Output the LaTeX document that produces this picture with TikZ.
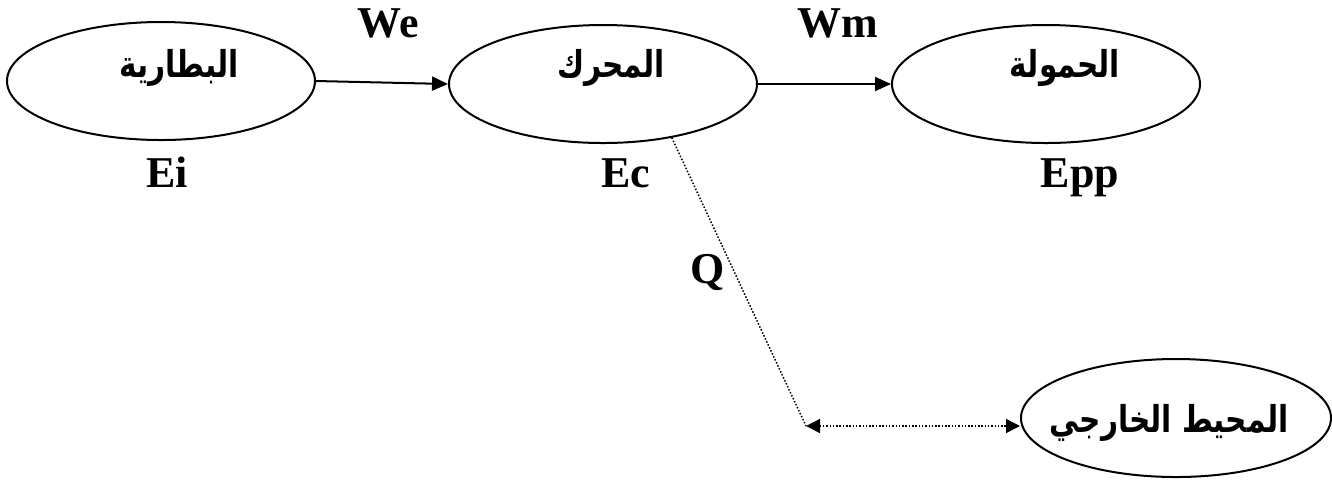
\documentclass[tikz,border=0pt]{standalone}
\usepackage{fontspec}
\setmainfont{Liberation Serif}
\newfontfamily\arabicfont[Script=Arabic,FakeStretch=0.8]{DejaVu Sans}
\TeXXeTstate=1
\usetikzlibrary{arrows.meta,shapes.geometric}

\begin{document}
\begin{tikzpicture}
[
	x=0.5pt,y=-0.5pt,
	part/.style={ellipse,draw,line width=1pt,minimum width=154pt,minimum height=59pt,inner sep=0pt},
	artxt/.style={font=\arabicfont\bfseries\fontsize{18.5}{22}\selectfont,inner sep=0pt},
	lbl/.style={font=\bfseries\fontsize{22}{26}\selectfont,anchor=base,inner sep=0pt},
	flow/.style={line width=1pt,-{Triangle[length=8pt,width=7pt]}},
	loss/.style={line width=0.75pt,dash pattern=on 0.75pt off 0.9pt},
	headtip/.tip={Triangle[length=7pt,width=7pt]}
]

	\useasboundingbox (0,0) rectangle (1332,479);

	% energy stores
	\node[part] (battery) at (161,81) {};
	\node[part] (motor) at (603,84) {};
	\node[part] (load) at (1046,84) {};
	\node[part,minimum width=155pt] (ambient) at (1176,418) {};

	\node[artxt] (battery-txt) at (179,68) {\beginR البطارية\endR};
	\node[artxt] (motor-txt) at (611,68) {\beginR المحرك\endR};
	\node[artxt] (load-txt) at (1065,68) {\beginR الحمولة\endR};
	\node[artxt] (ambient-txt) at (1169,423) {\beginR المحيط الخارجي\endR};

	% transfers
	\draw[flow] (battery.east) -- (motor.west);
	\draw[flow] (motor.east) -- (load.west);

	\coordinate (corner) at (806,426);
	\draw[loss] (motor.-38) -- (corner);
	\draw[loss,headtip-headtip] (corner) -- (ambient.west |- corner);

	% energies and works
	\node[lbl] (we) at (388,37) {We};
	\node[lbl] (wm) at (838,37) {Wm};
	\node[lbl] (ei) at (167,187) {Ei};
	\node[lbl] (ec) at (626,187) {Ec};
	\node[lbl] (epp) at (1080,187) {Epp};
	\node[lbl] (q) at (708,283) {Q};

\end{tikzpicture}
\end{document}
